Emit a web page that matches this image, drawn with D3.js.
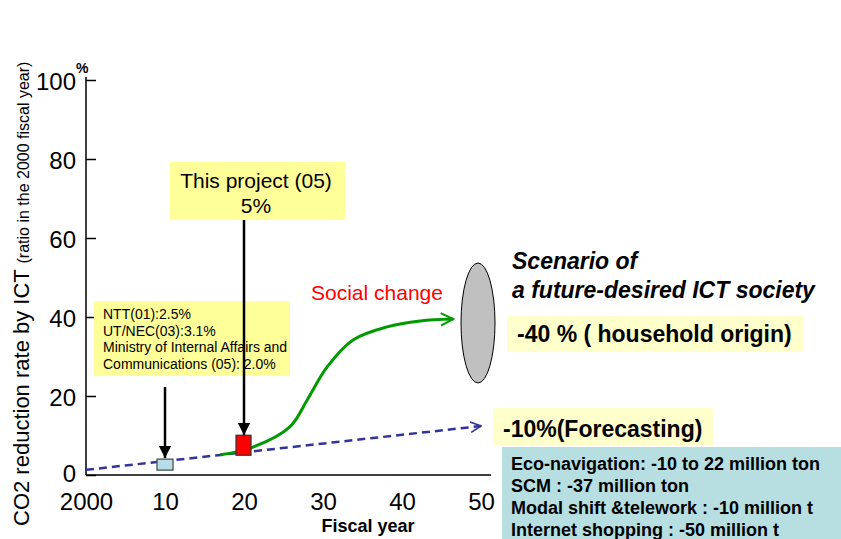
<!DOCTYPE html>
<html>
<head>
<meta charset="utf-8">
<script src="https://cdn.jsdelivr.net/npm/d3@7"></script>
<style>
  body { margin: 0; background: #fff; }
  svg { display: block; font-family: "Liberation Sans", Arial, sans-serif; }
</style>
</head>
<body>
<svg id="chart" width="841" height="539"></svg>
<script>
// Axis ticks
const xTickValues = [0, 10, 20, 30, 40, 50];
const xTickLabels = ["2000", "10", "20", "30", "40", "50"];
const yTickValues = [0, 20, 40, 60, 80, 100];

// Business-as-usual forecast trend (years after 2000, % reduction)
const forecastYears = [0, 50];
const forecastValues = [1.3, 12.4];

// Social-change scenario curve
const socialYears = [17.0, 20.8, 25.8, 28.0, 30.5, 33.8, 38.1, 42.3, 46.5];
const socialValues = [5.1, 6.8, 12.2, 19.0, 27.3, 34.2, 37.5, 39.0, 39.5];

// Study markers
const priorStudyYear = 10, priorStudyValue = 2.5;
const thisProjectYear = 20, thisProjectValue = 5;

// Annotation texts
const priorStudyLines = ["NTT(01):2.5%", "UT/NEC(03):3.1%", "Ministry of Internal Affairs and", "Communications (05): 2.0%"];
const projectLines = ["This project (05)", "5%"];
const measureLines = ["Eco-navigation: -10 to 22 million ton", "SCM : -37 million ton", "Modal shift &telework : -10 million t", "Internet shopping : -50 million t"];

const svg = d3.select("#chart");
const x = d3.scaleLinear().domain([0, 50]).range([86, 481]);
const y = d3.scaleLinear().domain([0, 100]).range([475, 80]);

const defs = svg.append("defs");
defs.append("marker").attr("id", "blackArrow").attr("viewBox", "0 0 10 10")
  .attr("refX", 10).attr("refY", 5).attr("markerWidth", 5).attr("markerHeight", 5)
  .attr("markerUnits", "strokeWidth").attr("orient", "auto")
  .append("path").attr("d", "M0,0 L10,5 L0,10 Z").attr("fill", "#000");
function chevron(id, color) {
  defs.append("marker").attr("id", id).attr("viewBox", "0 0 12 12")
    .attr("refX", 11).attr("refY", 6).attr("markerWidth", 5).attr("markerHeight", 5)
    .attr("markerUnits", "strokeWidth").attr("orient", "auto")
    .append("path").attr("d", "M1,1 L11,6 L1,11").attr("fill", "none")
    .attr("stroke", color).attr("stroke-width", 1.6);
}
chevron("blueChevron", "#333399");
chevron("greenChevron", "#009900");

// Y axis with inward ticks
const yAxis = svg.append("g").attr("transform", `translate(${x(0)},0)`)
  .call(d3.axisLeft(y).tickValues(yTickValues).tickSizeInner(-10).tickSizeOuter(0).tickPadding(10));
yAxis.select(".domain").attr("stroke", "#000").attr("stroke-width", 1.5)
  .attr("d", `M0,${y(100) - 3}V${y(0)}`);
yAxis.selectAll(".tick line").attr("stroke", "#000").attr("stroke-width", 1.5);
yAxis.selectAll(".tick text").attr("font-size", 24).attr("fill", "#000")
  .attr("dy", d => d === 0 ? "0.26em" : "0.4em")
  .attr("font-family", "'Liberation Sans', Arial, sans-serif");

// X axis
const xAxis = svg.append("g").attr("transform", `translate(0,${y(0)})`)
  .call(d3.axisBottom(x).tickValues(xTickValues).tickFormat((d, i) => xTickLabels[i]).tickSize(0).tickPadding(18));
xAxis.select(".domain").attr("stroke", "#000").attr("stroke-width", 1.5)
  .attr("d", `M${x(0)},0H${x(0) + 405}`);
xAxis.selectAll(".tick text").attr("font-size", 24).attr("fill", "#000")
  .attr("font-family", "'Liberation Sans', Arial, sans-serif");

// Axis titles
svg.append("text").attr("x", 76).attr("y", 73).attr("font-size", 14).attr("font-weight", "bold").text("%");
const yTitle = svg.append("text").attr("transform", "translate(29,526) rotate(-90)").attr("fill", "#000");
yTitle.append("tspan").attr("font-size", 22).text("CO2 reduction rate by ICT ");
yTitle.append("tspan").attr("font-size", 16).text("(ratio in the 2000 fiscal year)");
svg.append("text").attr("x", 368).attr("y", 532).attr("text-anchor", "middle")
  .attr("font-size", 18).attr("font-weight", "bold").text("Fiscal year");

// Forecast trend line
const line = d3.line().x(d => x(d[0])).y(d => y(d[1]));
svg.append("path").datum(forecastYears.map((v, i) => [v, forecastValues[i]]))
  .attr("d", line).attr("fill", "none").attr("stroke", "#333399").attr("stroke-width", 2.5)
  .attr("stroke-dasharray", "8,5").attr("marker-end", "url(#blueChevron)");

// Social change curve
svg.append("path").datum(socialYears.map((v, i) => [v, socialValues[i]]))
  .attr("d", line.curve(d3.curveCatmullRom)).attr("fill", "none").attr("stroke", "#009900")
  .attr("stroke-width", 3).attr("marker-end", "url(#greenChevron)");

// Annotation boxes
function box(x0, y0, w, h, fill) {
  svg.append("rect").attr("x", x0).attr("y", y0).attr("width", w).attr("height", h).attr("fill", fill);
}
box(94, 301, 196, 75, "#FFFF99");
svg.append("g").selectAll("text").data(priorStudyLines).join("text")
  .attr("x", 103).attr("y", (d, i) => 319 + i * 16.5).attr("font-size", 14).attr("fill", "#000").text(d => d);

box(170, 162, 175, 58, "#FFFF99");
svg.append("g").selectAll("text").data(projectLines).join("text")
  .attr("x", 256).attr("y", (d, i) => 188 + i * 25).attr("text-anchor", "middle")
  .attr("font-size", 21).attr("fill", "#000").text(d => d);

// Pointer arrows
const priorPx = x(priorStudyYear), projectPx = x(thisProjectYear);
svg.append("line").attr("x1", priorPx).attr("x2", priorPx).attr("y1", 387).attr("y2", y(priorStudyValue) - 7)
  .attr("stroke", "#000").attr("stroke-width", 2.5).attr("marker-end", "url(#blackArrow)");
svg.append("line").attr("x1", projectPx).attr("x2", projectPx).attr("y1", 220).attr("y2", y(thisProjectValue) - 20)
  .attr("stroke", "#000").attr("stroke-width", 2.5).attr("marker-end", "url(#blackArrow)");

// Study markers
svg.append("rect").attr("x", priorPx - 8).attr("y", y(priorStudyValue) - 6).attr("width", 16).attr("height", 11)
  .attr("fill", "#B7DEE8").attr("stroke", "#444").attr("stroke-width", 1.2);
svg.append("rect").attr("x", projectPx - 8).attr("y", y(thisProjectValue) - 20).attr("width", 15).attr("height", 20)
  .attr("fill", "#FF0000").attr("stroke", "#333").attr("stroke-width", 1.2);

svg.append("text").attr("x", 311).attr("y", 300).attr("font-size", 21).attr("fill", "#FF0000").text("Social change");

// Scenario ellipse and captions
svg.append("ellipse").attr("cx", 478).attr("cy", 323).attr("rx", 17).attr("ry", 60)
  .attr("fill", "#C0C0C0").attr("stroke", "#000").attr("stroke-width", 1);
svg.append("text").attr("x", 512).attr("y", 269).attr("font-size", 23).attr("font-weight", "bold")
  .attr("font-style", "italic").text("Scenario of");
svg.append("text").attr("x", 512).attr("y", 298).attr("font-size", 23).attr("font-weight", "bold")
  .attr("font-style", "italic").text("a future-desired ICT society");

box(507, 316, 296, 36, "#FFFFCC");
svg.append("text").attr("x", 517).attr("y", 342).attr("font-size", 23).attr("font-weight", "bold")
  .text("-40 % ( household origin)");

box(493, 408, 220, 37, "#FFFFCC");
svg.append("text").attr("x", 503).attr("y", 437).attr("font-size", 23).attr("font-weight", "bold")
  .text("-10%(Forecasting)");

box(502, 447, 339, 92, "#B7DEE1");
svg.append("g").selectAll("text").data(measureLines).join("text")
  .attr("x", 511).attr("y", (d, i) => 470 + i * 22).attr("font-size", 18).attr("font-weight", "bold")
  .attr("fill", "#000").text(d => d);
</script>
</body>
</html>
